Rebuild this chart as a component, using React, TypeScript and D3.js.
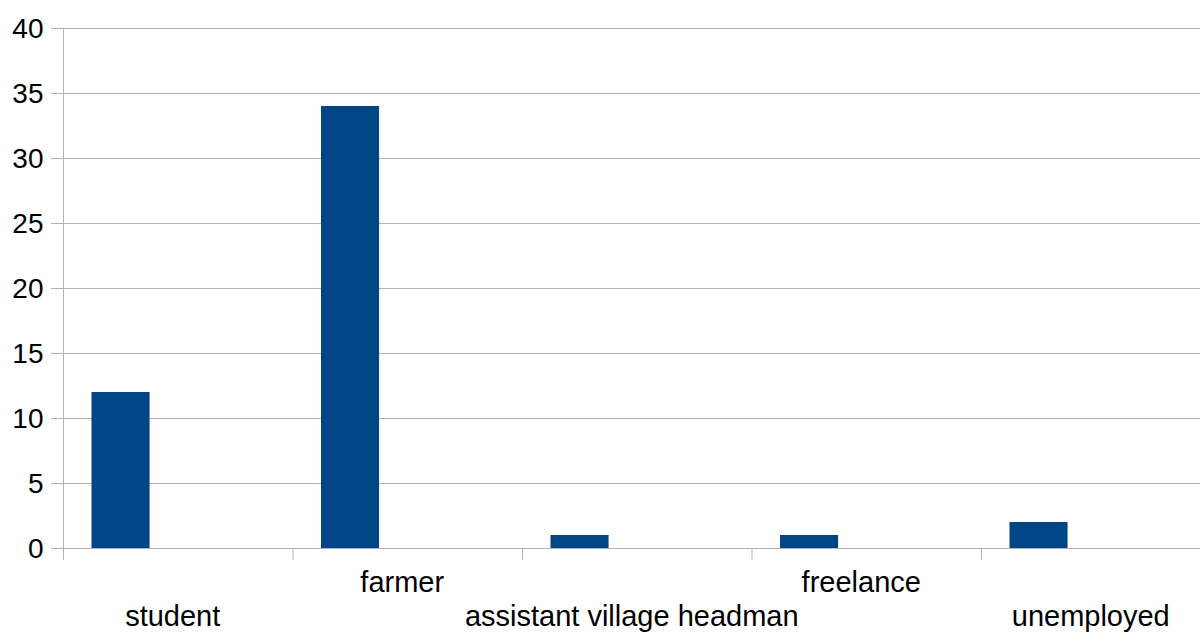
import React from "react";
import * as d3 from "d3";

const categories = ["student", "farmer", "assistant village headman", "freelance", "unemployed"];
const counts = [12, 34, 1, 1, 2];
const yTicks = [0, 5, 10, 15, 20, 25, 30, 35, 40];

const W = 1200;
const H = 632;
const left = 63.5;
const catWidth = 229.5;
const top = 28;
const bottom = 548;
const font = "'Liberation Sans', Arial, sans-serif";
const gridColor = "#b3b3b3";
const barColor = "#004586";

export default function App() {
  const x = d3
    .scaleBand<string>()
    .domain(categories)
    .range([left, left + catWidth * categories.length])
    .paddingInner(0)
    .paddingOuter(0);
  const y = d3.scaleLinear().domain([0, 40]).range([bottom, top]);

  const barOffset = 0.122;
  const barFrac = 0.253;

  return (
    <svg
      width={W}
      height={H}
      style={{ position: "absolute", left: 0, top: 0, background: "#fff" }}
    >
      {yTicks.map((t) => (
        <g key={t}>
          <line x1={51} x2={W} y1={y(t) + 0.5} y2={y(t) + 0.5} stroke={gridColor} strokeWidth={1} />
          <text
            x={43.5}
            y={y(t)}
            dy="0.36em"
            textAnchor="end"
            fontFamily={font}
            fontSize={28}
            fill="#000"
          >
            {t}
          </text>
        </g>
      ))}
      <line x1={left} x2={left} y1={top} y2={560} stroke={gridColor} strokeWidth={1} />
      {categories.map((c, i) => {
        const x0 = x(c)!;
        return (
          <g key={c}>
            {i > 0 && (
              <line x1={x0} x2={x0} y1={bottom} y2={560} stroke={gridColor} strokeWidth={1} />
            )}
            <rect
              x={x0 + catWidth * barOffset}
              width={catWidth * barFrac}
              y={y(counts[i])}
              height={y(0) - y(counts[i])}
              fill={barColor}
            />
            <text
              x={x0 + catWidth / 2 - 5.5}
              y={i % 2 === 0 ? 626 : 592}
              textAnchor="middle"
              fontFamily={font}
              fontSize={29}
              fill="#000"
            >
              {c}
            </text>
          </g>
        );
      })}
    </svg>
  );
}
